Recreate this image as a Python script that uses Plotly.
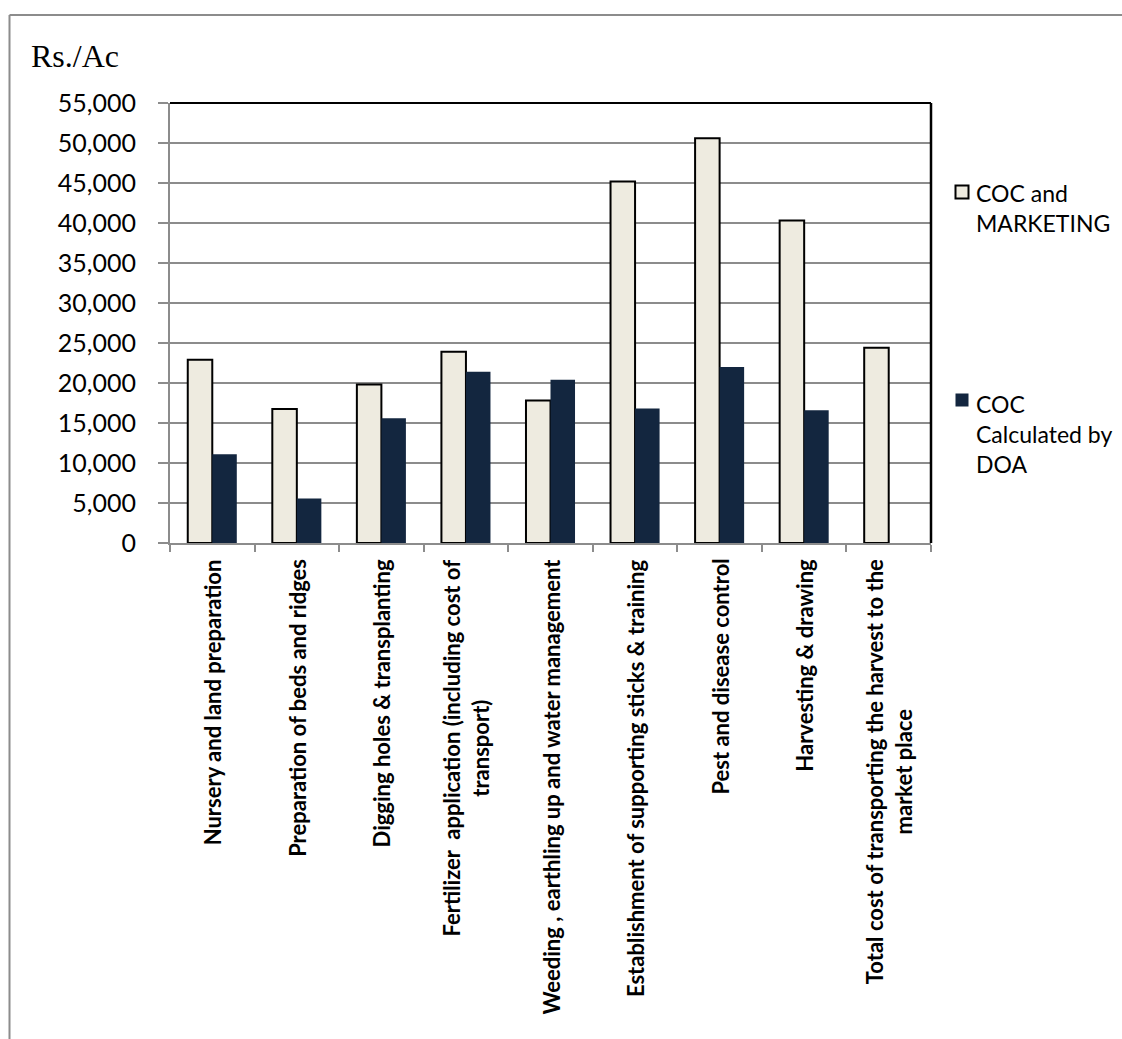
import plotly.graph_objects as go

# Cost items (x categories)
categories = [
    "Nursery and land preparation",
    "Preparation of beds and ridges",
    "Digging holes & transplanting",
    "Fertilizer  application (including cost of<br>transport)",
    "Weeding , earthling up and water management",
    "Establishment of supporting sticks & training",
    "Pest and disease control",
    "Harvesting & drawing",
    "Total cost of transporting the harvest to the<br>market place",
]

# Rs. per acre
coc_marketing = [22900, 16750, 19800, 23900, 17800, 45200, 50600, 40300, 24400]
coc_doa = [11100, 5550, 15600, 21400, 20400, 16800, 22000, 16600, None]

series_names = ["COC and<br>MARKETING", "COC<br>Calculated by<br>DOA"]

y_ticks = [0, 5000, 10000, 15000, 20000, 25000, 30000, 35000, 40000, 45000, 50000, 55000]

W, H = 1122, 1039
L, R, T, B = 170, 191, 103, 496
pw, ph = W - L - R, H - T - B


def px_x(px):
    return (px - L) / pw


def px_y(py):
    return (H - B - py) / ph


GRID = "#8c8c8c"
LIGHT = "#EEEBE0"
DARK = "#13263F"
BAR_STYLES = [
    dict(color=LIGHT, line=dict(color="#000000", width=2)),
    dict(color=DARK, line=dict(color=DARK, width=0)),
]

fig = go.Figure()
for name, vals, style in zip(series_names, [coc_marketing, coc_doa], BAR_STYLES):
    fig.add_trace(go.Bar(x=categories, y=vals, name=name, marker=style,
                         showlegend=False))

# Category labels under the axis, rotated and centred per line
annotations = []
for c in categories:
    annotations.append(dict(
        x=c, xref="x", y=0, yref="paper", yanchor="top", xanchor="center",
        yshift=-14, textangle=-90, showarrow=False, align="center",
        text="<b>" + c + "</b>",
        font=dict(family="Lato", size=22, color="#000000"),
    ))

# Axis unit label
annotations.append(dict(
    x=px_x(29), y=px_y(76), xref="paper", yref="paper",
    xanchor="left", yanchor="bottom", showarrow=False, text="Rs./Ac",
    font=dict(family="Liberation Serif", size=32, color="#000000"),
))

shapes = [
    # plot frame: top and right edges
    dict(type="line", xref="paper", yref="paper", x0=0, x1=1, y0=1, y1=1,
         line=dict(color="#000000", width=2)),
    dict(type="line", xref="paper", yref="paper", x0=1, x1=1, y0=0, y1=1,
         line=dict(color="#000000", width=2.5)),
    # chart area border
    dict(type="line", xref="paper", yref="paper", x0=px_x(9.5), x1=px_x(1125),
         y0=px_y(15), y1=px_y(15), line=dict(color=GRID, width=2)),
    dict(type="line", xref="paper", yref="paper", x0=px_x(9.5), x1=px_x(9.5),
         y0=px_y(15), y1=px_y(1045), line=dict(color=GRID, width=2)),
]

# Key: one swatch and one text block per series
key_rows = [(192, 207.5), (400, 433.5)]  # swatch centre y, text block centre y
for (sy, ty), name, style in zip(key_rows, series_names, BAR_STYLES):
    shapes.append(dict(
        type="rect", xref="paper", yref="paper",
        x0=px_x(955.5), x1=px_x(968.5), y0=px_y(sy - 6.5), y1=px_y(sy + 6.5),
        fillcolor=style["color"],
        line=dict(color=style["line"]["color"], width=style["line"]["width"] or 0.01),
    ))
    annotations.append(dict(
        x=px_x(974), y=px_y(ty), xref="paper", yref="paper",
        xanchor="left", yanchor="middle", align="left", showarrow=False,
        text=name, font=dict(family="Lato", size=23, color="#000000"),
    ))

fig.update_layout(
    width=W, height=H,
    margin=dict(l=L, r=R, t=T, b=B, pad=0),
    paper_bgcolor="#ffffff", plot_bgcolor="#ffffff",
    barmode="group", bargap=0.42, bargroupgap=0,
    font=dict(family="Lato", color="#000000"),
    showlegend=False,
    annotations=annotations,
    shapes=shapes,
)

fig.update_xaxes(
    type="category", showticklabels=False, tickson="boundaries",
    ticks="outside", ticklen=7, tickwidth=2, tickcolor=GRID,
    showline=True, linecolor=GRID, linewidth=2, showgrid=False,
)
fig.update_yaxes(
    range=[0, 55000], tickvals=y_ticks, tickformat=",d",
    ticks="outside", ticklen=10, tickwidth=2, tickcolor=GRID,
    showline=True, linecolor=GRID, linewidth=2,
    showgrid=True, gridcolor=GRID, gridwidth=2, zeroline=False,
    tickfont=dict(family="Lato", size=25, color="#000000"),
    ticklabelstandoff=17,
)

fig.write_html("out.html")
